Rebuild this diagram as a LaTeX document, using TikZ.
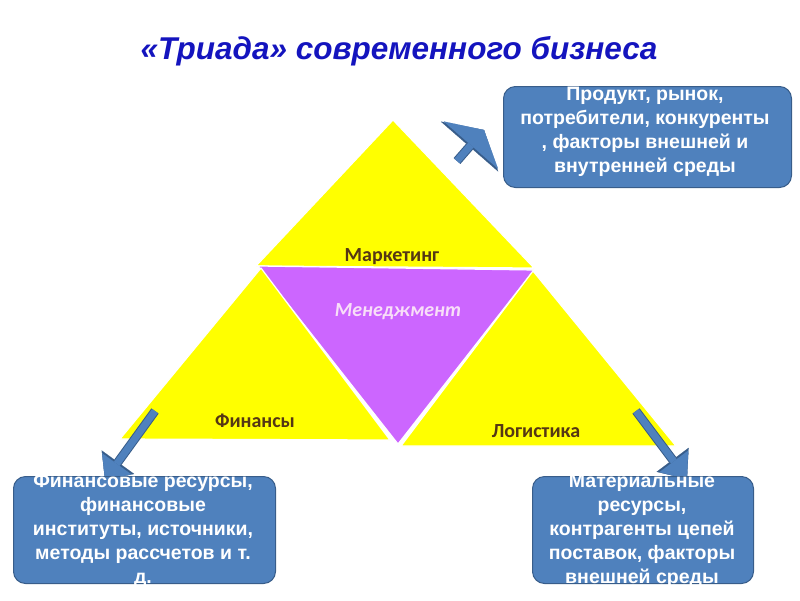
\documentclass[tikz,border=0pt]{standalone}
\usepackage{fontspec}
\setmainfont{Liberation Sans}
\newfontfamily\calfont{Carlito}
\usetikzlibrary{arrows.meta}
\definecolor{triyellow}{RGB}{255,255,0}
\definecolor{menpurple}{RGB}{204,102,255}
\definecolor{boxblue}{RGB}{79,129,189}
\definecolor{boxedge}{RGB}{56,93,138}
\definecolor{partbrown}{RGB}{85,55,20}
\definecolor{titleblue}{RGB}{20,20,190}
\definecolor{menpink}{RGB}{248,222,248}

\begin{document}
\begin{tikzpicture}[x=1pt, y=-1pt,
  part/.style={draw=white, line width=1.2pt, line join=round},
  partname/.style={anchor=base, inner sep=0pt, text=partbrown, font=\calfont\bfseries\fontsize{20}{24}\selectfont},
  box/.style={rectangle, draw=boxedge, fill=boxblue, line width=1pt, rounded corners=12pt, anchor=north west, inner sep=0pt},
  boxtext/.style={anchor=base, align=center, inner sep=0pt, text=white, font=\bfseries\fontsize{19.5}{24}\selectfont},
  arrowedge/.style={boxedge, line width=9pt},
  arrowfill/.style={boxblue, line width=7pt}
]
\useasboundingbox (0,0) rectangle (800,600);

\node[anchor=base, inner sep=0pt, text=titleblue, font=\bfseries\itshape\fontsize{31.5}{36}\selectfont] (title) at (399,59) {«Триада» современного бизнеса};

\fill[triyellow, part] (393,120) -- (256,266) -- (534,268) -- cycle;
\fill[menpurple, part] (258,266) -- (534,270) -- (398,444) -- cycle;
\fill[triyellow, part] (261,268) -- (120,439) -- (390,440) -- cycle;
\fill[triyellow, part] (533,271) -- (401,446) -- (676,446) -- cycle;

\node[partname] (marketing) at (392,261) {Маркетинг};
\node[partname, text=menpink, font=\calfont\bfseries\itshape\fontsize{20}{24}\selectfont] (management) at (398,316) {Менеджмент};
\node[partname] (finance) at (255,427) {Финансы};
\node[partname] (logistics) at (536,437) {Логистика};

\coordinate (topTail) at (457,161);
\coordinate (topTip) at (484,130);
\coordinate (finTail) at (155,411);
\coordinate (finTip) at (105,480);
\coordinate (logTail) at (636,411);
\coordinate (logTip) at (687,479);

\draw[arrowedge, -{Triangle[length=22pt, width=76pt, line width=0.1pt]}] (topTail) -- (topTip);
\draw[arrowfill, -{Triangle[length=20pt, width=72pt, line width=0.1pt]}] (topTail) -- (topTip);
\draw[arrowedge, -{Triangle[length=22pt, width=40pt, line width=0.1pt]}] (finTail) -- (finTip);
\draw[arrowfill, -{Triangle[length=20pt, width=36pt, line width=0.1pt]}] (finTail) -- (finTip);
\draw[arrowedge, -{Triangle[length=24pt, width=40pt, line width=0.1pt]}] (logTail) -- (logTip);
\draw[arrowfill, -{Triangle[length=22pt, width=36pt, line width=0.1pt]}] (logTail) -- (logTip);

\node[box, minimum width=288pt, minimum height=101pt] (market) at (503,86) {};
\node[box, minimum width=262pt, minimum height=107pt] (resources) at (13,476) {};
\node[box, minimum width=221pt, minimum height=107pt] (supply) at (532,476) {};

\node[boxtext, font=\bfseries\fontsize{19.5}{23.7}\selectfont] (marketText) at (645,172) {Продукт, рынок,\\потребители, конкуренты\\, факторы внешней и\\внутренней среды};
\node[boxtext] (resourcesText) at (143,583) {Финансовые ресурсы,\\финансовые\\институты, источники,\\методы рассчетов и т.\\д.};
\node[boxtext] (supplyText) at (642,583) {Материальные\\ресурсы,\\контрагенты цепей\\поставок, факторы\\внешней среды};
\end{tikzpicture}
\end{document}
